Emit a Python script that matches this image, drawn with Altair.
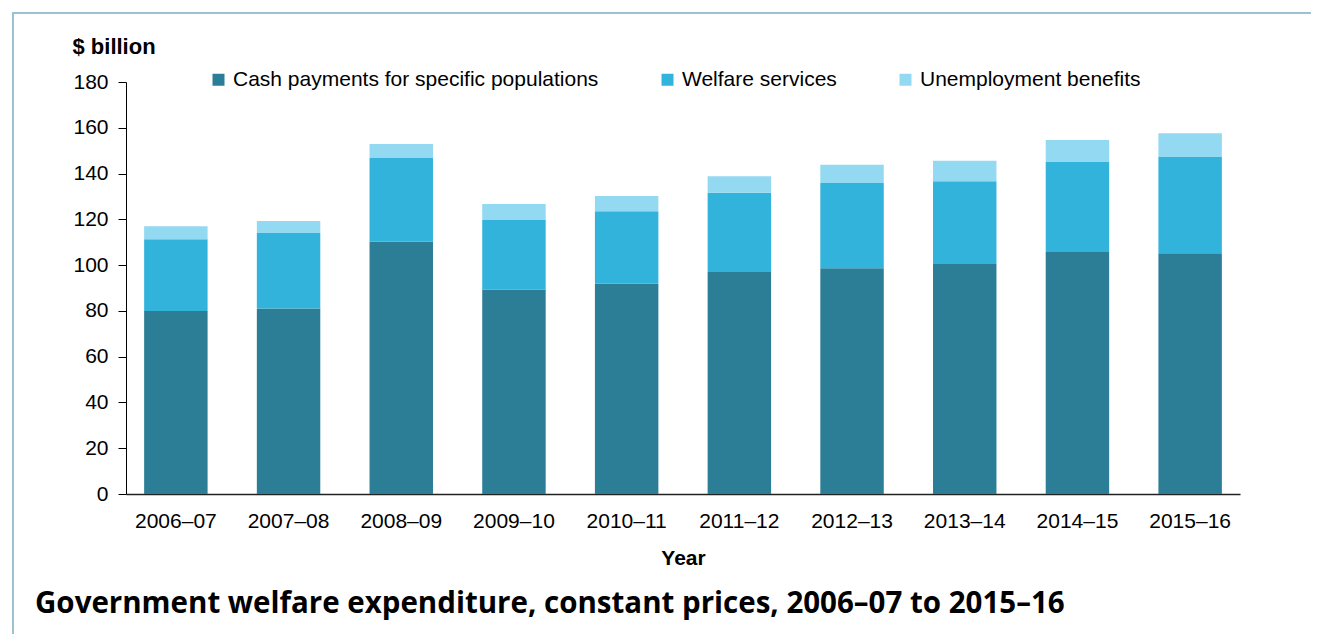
import altair as alt
import pandas as pd

years = ["2006–07", "2007–08", "2008–09", "2009–10", "2010–11",
         "2011–12", "2012–13", "2013–14", "2014–15", "2015–16"]
series = ["Cash payments for specific populations", "Welfare services", "Unemployment benefits"]
cash = [80.0, 81.0, 110.2, 89.3, 91.9, 97.0, 98.6, 100.5, 105.7, 105.2]
welfare = [31.3, 33.0, 36.6, 30.4, 31.6, 34.6, 37.3, 36.1, 39.3, 42.2]
unemp = [5.7, 5.3, 6.1, 7.0, 6.7, 7.2, 8.0, 9.0, 9.7, 10.2]
colors = ["#2c7d96", "#32b3db", "#93d9f1"]
y_ticks = [0, 20, 40, 60, 80, 100, 120, 140, 160, 180]
title_text = "Government welfare expenditure, constant prices, 2006–07 to 2015–16"

rows = []
for i, yr in enumerate(years):
    for k, (name, vals) in enumerate(zip(series, [cash, welfare, unemp])):
        rows.append({"year": yr, "series": name, "value": vals[i], "ord": k})
df = pd.DataFrame(rows)

FONT = "Liberation Sans"
FS = 21

bars = alt.Chart(df).mark_bar().encode(
    x=alt.X("year:N", sort=years,
            scale=alt.Scale(paddingInner=0.437, paddingOuter=0.161),
            axis=alt.Axis(title="Year", labelAngle=0, ticks=False, tickSize=0,
                          labelPadding=16, labelFontSize=FS, labelFont=FONT,
                          labelColor="#000000", domainColor="#222222", domainWidth=1.5,
                          titleFont=FONT, titleFontSize=FS, titleFontWeight="bold",
                          titleColor="#000000", titleY=70, titleBaseline="alphabetic")),
    y=alt.Y("value:Q", stack="zero",
            scale=alt.Scale(domain=[0, 180], nice=False),
            axis=alt.Axis(title="$ billion", values=y_ticks, grid=False,
                          tickSize=8, tickColor="#000000", domainColor="#000000",
                          labelPadding=10, labelFontSize=FS, labelFont=FONT,
                          labelColor="#000000",
                          titleAngle=0, titleX=-54, titleY=-29, titleAlign="left",
                          titleBaseline="alphabetic", titleFont=FONT, titleFontSize=22,
                          titleFontWeight="bold", titleColor="#000000")),
    color=alt.Color("series:N",
                    scale=alt.Scale(domain=series, range=colors),
                    legend=alt.Legend(title=None, orient="none", legendX=82, legendY=-13,
                                      direction="horizontal", symbolType="square",
                                      symbolSize=144, symbolStrokeWidth=0,
                                      labelFont=FONT, labelFontSize=FS, labelColor="#000000",
                                      labelOffset=4, columnPadding=58, padding=0,
                                      labelLimit=600)),
    order=alt.Order("ord:Q", sort="ascending"),
)

one = pd.DataFrame({"a": [0]})
border_color = "#9cc2cf"
top_line = alt.Chart(one).mark_rule(color=border_color, strokeWidth=2).encode(
    x=alt.value(-113), x2=alt.value(1185), y=alt.value(-69))
left_line = alt.Chart(one).mark_rule(color=border_color, strokeWidth=2).encode(
    x=alt.value(-113), y=alt.value(-70), y2=alt.value(560))

title = alt.Chart(one).mark_text(align="left", baseline="alphabetic", font="Open Sans",
                                 fontWeight="bold", fontSize=29.5, color="#000000").encode(
    x=alt.value(-91), y=alt.value(531), text=alt.value(title_text))

chart = alt.layer(bars, top_line, left_line, title).properties(
    width=1114, height=412,
    autosize=alt.AutoSizeParams(type="none"),
    padding={"left": 118, "top": 74, "right": 71, "bottom": 140},
).configure(background="white").configure_view(stroke=None, strokeWidth=0)

chart.save("out.html", embed_options={"renderer": "svg", "actions": False})
